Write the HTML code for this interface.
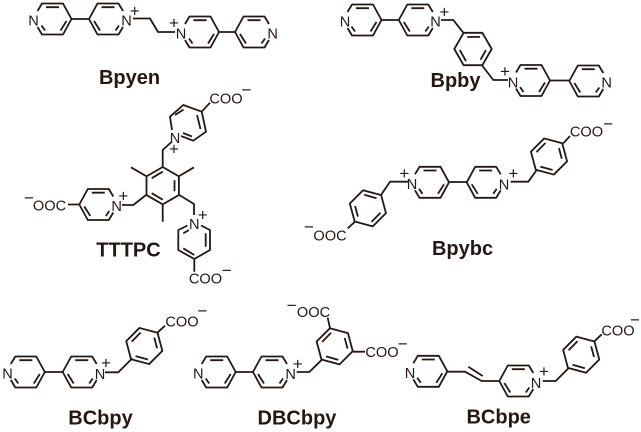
<!DOCTYPE html>
<html><head><meta charset="utf-8"><style>
html,body{margin:0;padding:0;background:#fff}
svg{display:block;filter:blur(.3px)}
text{font-family:"Liberation Sans",sans-serif;fill:#231815;text-anchor:middle}
.a{font-size:14.6px}
.s{font-size:17px}
.l{font-size:20px;font-weight:bold}
path{stroke:#231815;stroke-width:1.8;fill:none;stroke-linejoin:round}
</style></head><body>
<svg width="641" height="432" viewBox="0 0 641 432" xmlns="http://www.w3.org/2000/svg">
<defs>
<g id="r"><path d="M-15,-8L-10.500,-15.500H10.500L19,0L10.500,15.500H-10.500L-15,8M-6.500,-11.800H6.500M8,11.500L14,2M-11,6.500L-7.500,11.500"/></g>
<g id="h"><path d="M0,-18.700L16.200,-9.350V9.350L0,18.700L-16.200,9.350V-9.350ZM-11,-7.500L0,-14M11.800,-5.500V5.500M-11,7.500L0,14"/></g>
</defs>

<!-- Bpyen -->
<use href="#r" transform="translate(52.500,19)"/>
<use href="#r" transform="translate(108,19) scale(-1,1)"/>
<use href="#r" transform="translate(200,32)"/>
<use href="#r" transform="translate(254,32) scale(-1,1)"/>
<path d="M71,19H89.500M133,18.500H150L158,32H175M218.500,32H235.500"/>
<text class="a" x="33.500" y="25.500">N</text><text class="a" x="126.500" y="25.500">N</text>
<text class="a" x="181" y="38.500">N</text><text class="a" x="272.700" y="38.500">N</text>
<text class="s" x="134.700" y="16.500">+</text><text class="s" x="174" y="28.500">+</text>
<text class="l" x="129.500" y="84">Bpyen</text>

<!-- Bpby -->
<use href="#r" transform="translate(362.500,20)"/>
<use href="#r" transform="translate(417.800,20) scale(-1,1)"/>
<use href="#r" transform="translate(531,80.500)"/>
<use href="#r" transform="translate(588.300,81) scale(-1,1)"/>
<use href="#h" transform="translate(473,49) rotate(30)"/>
<path d="M381,20H399.500M441,20H453.300L463.300,32.700M481.700,65L493.300,80H508M549.500,80.500H570"/>
<text class="a" x="345" y="26.500">N</text><text class="a" x="435.500" y="26.500">N</text>
<text class="a" x="513" y="87.500">N</text><text class="a" x="606.700" y="87.500">N</text>
<text class="s" x="444.300" y="17.500">+</text><text class="s" x="505" y="77">+</text>
<text class="l" x="455.500" y="87">Bpby</text>

<!-- TTTPC -->
<use href="#h" transform="translate(162.700,185.700)"/>
<path d="M146,176L131,167.300M179.300,176L194,167.300M162.700,204V221.700M162.700,167.300V150L171.500,142"/>
<path d="M172,130L170,116.700L183.300,105L201.700,111.700L206,131.700L193.300,140.700L181,136M175,115L183.500,109.500M197,115L200.500,129M183,133L192,136.500M201.700,111.700L210,102.700"/>
<text class="a" x="175" y="143">N</text><text class="s" x="174" y="154.500">+</text>
<text class="a" x="226" y="103.500">COO</text><text class="s" x="246.500" y="95.500">−</text>
<use href="#r" transform="translate(98.300,204.500) scale(-1,1)"/>
<path d="M80,204.500H68M122,205H133.300L146,195"/>
<text class="a" x="116.700" y="211">N</text><text class="s" x="123.300" y="201.500">+</text>
<text class="a" x="49.500" y="210.500">OOC</text><text class="s" x="29" y="203.500">−</text>
<path d="M179.300,195L194,204V215M187.500,225.500L178.300,230V250L194.300,259L210,250V230L201,225.500M183.300,233.300L189,230M205.700,233.300V246.700M183.300,248.300L194.300,255M194.300,259V271.700"/>
<text class="a" x="194.300" y="229">N</text><text class="s" x="202.700" y="220.500">+</text>
<text class="a" x="205.500" y="283.500">COO</text><text class="s" x="226.700" y="276">−</text>
<text class="l" x="128.500" y="256.500">TTTPC</text>

<!-- Bpybc -->
<use href="#r" transform="translate(430,182.300)"/>
<use href="#r" transform="translate(485.700,182.300) scale(-1,1)"/>
<use href="#h" transform="translate(549,156.500) rotate(-15)"/>
<use href="#h" transform="translate(367.900,208.300) rotate(165)"/>
<path d="M448.300,182H467.700M510.700,181.700H528.300L536.700,170M563.300,143.300L570,136M408,181.700H390L381,195M355,221.700L347.700,228.300"/>
<text class="a" x="412" y="189">N</text><text class="a" x="504" y="189.500">N</text>
<text class="s" x="404.300" y="179">+</text><text class="s" x="513.300" y="179">+</text>
<text class="a" x="586.500" y="136.500">COO</text><text class="s" x="608.300" y="129.500">−</text>
<text class="a" x="330" y="240.500">OOC</text><text class="s" x="309" y="232.500">−</text>
<text class="l" x="462.500" y="255">Bpybc</text>

<!-- BCbpy -->
<use href="#r" transform="translate(25.800,372)"/>
<use href="#r" transform="translate(81.700,372) scale(-1,1)"/>
<use href="#h" transform="translate(144.300,346) rotate(-15)"/>
<path d="M44.500,372H63M105,372.300H118.300L132.300,358.300M156.700,333.300L165,325.700"/>
<text class="a" x="7.500" y="378.500">N</text><text class="a" x="100" y="379">N</text>
<text class="s" x="106" y="368.500">+</text>
<text class="a" x="182" y="326.500">COO</text><text class="s" x="202.500" y="316.500">−</text>
<text class="l" x="100.500" y="424.300">BCbpy</text>

<!-- DBCbpy -->
<use href="#r" transform="translate(216.700,372)"/>
<use href="#r" transform="translate(272,372) scale(-1,1)"/>
<use href="#h" transform="translate(334.700,346.300) rotate(-15)"/>
<path d="M235,372H253.500M296.700,372H309.300L322.300,359.300M330,328.300L327.700,317.700M352.700,351.700H365"/>
<text class="a" x="198.300" y="378.500">N</text><text class="a" x="290.700" y="379">N</text>
<text class="s" x="297.700" y="369.500">+</text>
<text class="a" x="313.500" y="317">OOC</text><text class="s" x="291.700" y="311">−</text>
<text class="a" x="382" y="357">COO</text><text class="s" x="402.700" y="349.500">−</text>
<text class="l" x="297" y="424.300">DBCbpy</text>

<!-- BCbpe -->
<use href="#r" transform="translate(428.300,371.300)"/>
<use href="#r" transform="translate(518.300,381) scale(-1,1)"/>
<use href="#h" transform="translate(581.200,354.700) rotate(-15)"/>
<path d="M446.700,371.700H465L481.700,381H500M468.300,366.700L482.700,376M542.700,381H555.700L569,367.700M594,341.700L601.700,334.300"/>
<text class="a" x="410" y="378">N</text><text class="a" x="536" y="388">N</text>
<text class="s" x="544" y="377">+</text>
<text class="a" x="618" y="335.500">COO</text><text class="s" x="635" y="325.500">−</text>
<text class="l" x="498.700" y="423.300">BCbpe</text>
</svg>
</body></html>
